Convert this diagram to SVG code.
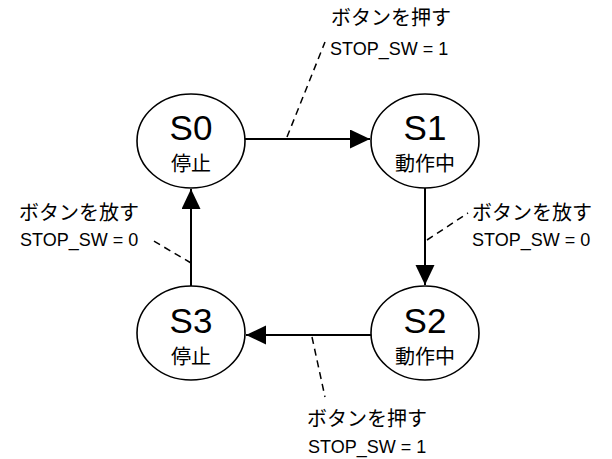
<svg xmlns="http://www.w3.org/2000/svg" width="612" height="459" viewBox="0 0 612 459">
<style>
.st{fill:#fff;stroke:#000;stroke-width:1.6}
.nm{font-family:"Liberation Sans",Arial,sans-serif;font-size:35px;text-anchor:middle;fill:#000}
.jp{font-family:"Noto Sans CJK JP","Noto Sans",sans-serif;font-size:20px;fill:#000}
.jpc{text-anchor:middle}
.lb{font-family:"Liberation Sans",Arial,sans-serif;font-size:18px;fill:#000}
.ed{stroke:#000;stroke-width:2;fill:none;marker-end:url(#ah)}
.ds{stroke:#000;stroke-width:1.5;fill:none;stroke-dasharray:7 5}
</style>
<defs>
<marker id="ah" markerUnits="userSpaceOnUse" markerWidth="22" markerHeight="20" refX="20" refY="9.5" orient="auto">
<polygon points="0,0 20,9.5 0,19" fill="#000"/>
</marker>
</defs>
<rect width="612" height="459" fill="#fff"/>
<g id="connectors">
<path class="ed" d="M245,139 L370,139"/>
<path class="ed" d="M425,188 L425,285"/>
<path class="ed" d="M372,335 L246,335"/>
<path class="ed" d="M191,287 L191,189"/>
<path class="ds" d="M287,137 L325,42"/>
<path class="ds" d="M427,240 L468,213"/>
<path class="ds" d="M312,337 L325,397"/>
<path class="ds" d="M191,263 L152,240"/>
</g>
<g id="labels">
<text class="jp" x="331" y="25">ボタンを押す</text>
<text class="lb" x="330" y="55">STOP_SW = 1</text>
<text class="jp" x="19" y="220">ボタンを放す</text>
<text class="lb" x="20" y="246">STOP_SW = 0</text>
<text class="jp" x="472" y="220">ボタンを放す</text>
<text class="lb" x="472" y="246">STOP_SW = 0</text>
<text class="jp" x="307" y="426">ボタンを押す</text>
<text class="lb" x="308" y="453">STOP_SW = 1</text>
</g>
<g id="S0">
<ellipse class="st" cx="191" cy="141" rx="54" ry="47"/>
<text class="nm" x="191" y="140">S0</text>
<text class="jp jpc" x="191" y="171">停止</text>
</g>
<g id="S1">
<ellipse class="st" cx="425" cy="141" rx="54" ry="47"/>
<text class="nm" x="425" y="140">S1</text>
<text class="jp jpc" x="425" y="171">動作中</text>
</g>
<g id="S2">
<ellipse class="st" cx="425" cy="333" rx="54" ry="47"/>
<text class="nm" x="425" y="333">S2</text>
<text class="jp jpc" x="425" y="364">動作中</text>
</g>
<g id="S3">
<ellipse class="st" cx="191" cy="333" rx="54" ry="47"/>
<text class="nm" x="191" y="333">S3</text>
<text class="jp jpc" x="191" y="364">停止</text>
</g>
</svg>
